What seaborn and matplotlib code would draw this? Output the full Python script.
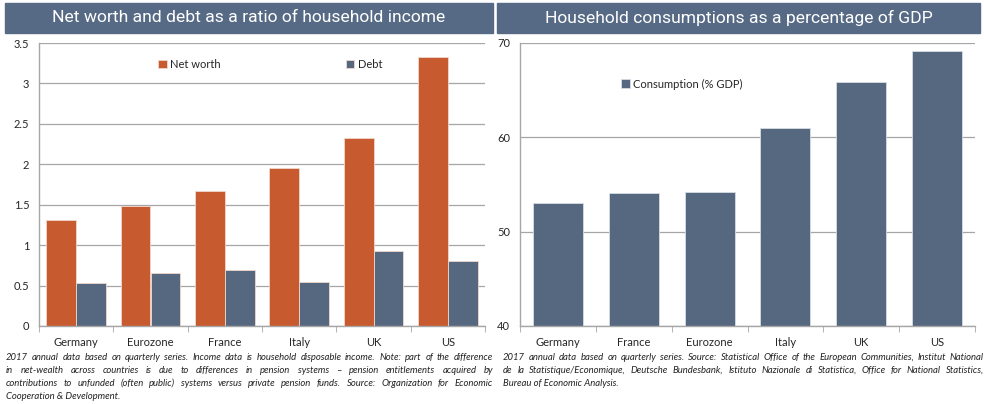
import pandas as pd
import matplotlib.pyplot as plt
import seaborn as sns
from matplotlib.patches import Rectangle

# left panel data
countries_left = ['Germany', 'Eurozone', 'France', 'Italy', 'UK', 'US']
net_worth = [1.31, 1.49, 1.67, 1.95, 2.33, 3.33]
debt = [0.53, 0.65, 0.69, 0.55, 0.93, 0.80]

# right panel data
countries_right = ['Germany', 'France', 'Eurozone', 'Italy', 'UK', 'US']
consumption = [53.0, 54.1, 54.2, 61.0, 65.9, 69.1]

orange = '#C75A2E'
slate = '#56687F'
title_bg = '#576A85'
grid_col = '#A6A6A6'

left_df = pd.DataFrame({'country': countries_left * 2,
                        'value': net_worth + debt,
                        'series': ['Net worth'] * 6 + ['Debt'] * 6})
right_df = pd.DataFrame({'country': countries_right, 'value': consumption,
                         'series': ['Consumption (% GDP)'] * 6})

sns.set_style('white')
plt.rcParams['font.family'] = ['Lato', 'DejaVu Sans']

fig = plt.figure(figsize=(9.84, 4.04), dpi=100)
W, H = 984, 404


def fx(px):
    return px / W


def fy(py):
    return 1 - py / H


ax1 = fig.add_axes([fx(39), fy(326), fx(485 - 39), fy(43) - fy(326)])
ax2 = fig.add_axes([fx(520), fy(326), fx(975 - 520), fy(43) - fy(326)])

sns.barplot(data=left_df, x='country', y='value', hue='series',
            palette=[orange, slate], width=0.8, ax=ax1, saturation=1,
            edgecolor='#F0D8CC', linewidth=0.6)
sns.barplot(data=right_df, x='country', y='value', hue='series',
            palette=[slate], width=0.66, ax=ax2, saturation=1,
            edgecolor='#D6DCE4', linewidth=0.6)

for ax in (ax1, ax2):
    ax.set_xlabel('')
    ax.set_ylabel('')
    for s in ('top', 'right'):
        ax.spines[s].set_visible(False)
    for s in ('left', 'bottom'):
        ax.spines[s].set_color(grid_col)
        ax.spines[s].set_linewidth(1.0)
    ax.yaxis.grid(True, color=grid_col, linewidth=0.9)
    ax.set_axisbelow(True)
    ax.set_xlim(-0.5, 5.5)
    ax.set_xticks(range(6))
    ax.tick_params(axis='x', length=0, labelsize=8, pad=8)
    ax.tick_params(axis='y', length=4, color=grid_col, labelsize=8, pad=3,
                   direction='out')
    ax.set_xticks([i + 0.5 for i in range(-1, 6)], minor=True)
    ax.tick_params(axis='x', which='minor', bottom=True, length=4,
                   color=grid_col, direction='out')

ax1.set_ylim(0, 3.5)
ax1.set_yticks([0, 0.5, 1, 1.5, 2, 2.5, 3, 3.5])
ax1.set_yticklabels(['0', '0.5', '1', '1.5', '2', '2.5', '3', '3.5'])

ax2.set_ylim(40, 70)
ax2.set_yticks([40, 50, 60, 70])
ax2.set_yticks([45, 55, 65], minor=True)
ax2.tick_params(axis='y', which='minor', length=0)

ax1.legend(loc='upper left', bbox_to_anchor=(0.245, 0.98), ncol=2,
           frameon=False, fontsize=8, handlelength=0.8, handleheight=0.8,
           handletextpad=0.3, columnspacing=11.2)
ax2.legend(loc='upper left', bbox_to_anchor=(0.2, 0.91), frameon=False,
           fontsize=8, handlelength=0.8, handleheight=0.8, handletextpad=0.3)

# title bars
for x0, x1, txt in [(5, 493, 'Net worth and debt as a ratio of household income'),
                    (497, 980, 'Household consumptions as a percentage of GDP')]:
    fig.patches.append(Rectangle((fx(x0), fy(33)), fx(x1 - x0), fy(3) - fy(33),
                                 transform=fig.transFigure, color=title_bg,
                                 zorder=0))
    fig.text(fx((x0 + x1) / 2), fy(18), txt, color='white', fontsize=12.6,
             ha='center', va='center', family=['Roboto', 'DejaVu Sans'])

left_note = ['2017 annual data based on quarterly series. Income data is household disposable income. Note: part of the difference',
             'in net-wealth across countries is due to differences in pension systems \u2013 pension entitlements acquired by',
             'contributions to unfunded (often public) systems versus private pension funds. Source: Organization for Economic',
             'Cooperation & Development.']
right_note = ['2017 annual data based on quarterly series. Source: Statistical Office of the European Communities, Institut National',
              'de la Statistique/Economique, Deutsche Bundesbank, Istituto Nazionale di Statistica, Office for National Statistics,',
              'Bureau of Economic Analysis.']

note_kw = dict(fontsize=6.8, style='italic', va='baseline', color='#222222',
               family=['Lato', 'DejaVu Sans'])


def text_w(s, r):
    t = fig.text(0, 0, s, **note_kw)
    w = t.get_window_extent(r).width
    t.remove()
    return w


def justify(lines, x0, x1, y0):
    r = fig.canvas.get_renderer()
    for i, line in enumerate(lines):
        y = fy(y0 + i * 13)
        if i == len(lines) - 1:
            fig.text(fx(x0), y, line, **note_kw)
            continue
        words = line.split(' ')
        full = text_w(line, r)
        extra = (x1 - x0 - full) / (len(words) - 1)
        for k, w in enumerate(words):
            if k == 0:
                start = 0
            else:
                upto = ' '.join(words[:k + 1])
                start = text_w(upto, r) - text_w(w, r)
            fig.text(fx(x0 + start + k * extra), y, w, **note_kw)


fig.canvas.draw()
justify(left_note, 6, 493, 360)
justify(right_note, 503, 984, 360)

fig.savefig('out.png', dpi=100)
